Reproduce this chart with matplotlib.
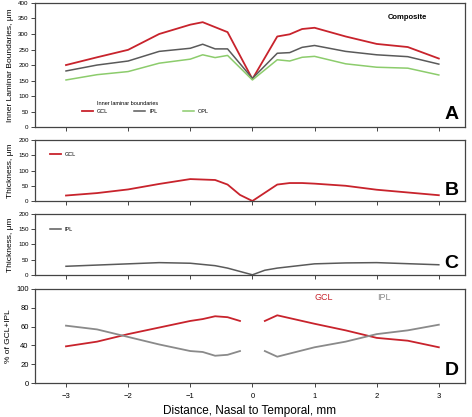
import matplotlib
matplotlib.use("Agg")
import matplotlib.pyplot as plt
import numpy as np

plt.rcParams["font.family"] = ["Liberation Sans", "DejaVu Sans"]

# Panel A: inner laminar boundaries (um)
dist_a = [-3, -2.5, -2, -1.5, -1, -0.8, -0.6, -0.4, 0, 0.4, 0.6, 0.8, 1, 1.5, 2, 2.5, 3]
gcl_a = [200, 225, 249, 300, 330, 338, 322, 306, 155, 292, 299, 316, 320, 292, 268, 258, 221]
ipl_a = [181, 200, 213, 244, 254, 267, 252, 252, 157, 238, 240, 257, 263, 244, 233, 227, 203]
opl_a = [152, 169, 179, 206, 219, 233, 224, 231, 152, 217, 213, 225, 228, 204, 193, 190, 168]

# Panel B: GCL thickness
dist_b = [-3, -2.5, -2, -1.5, -1, -0.6, -0.4, -0.2, 0, 0.4, 0.6, 0.8, 1, 1.5, 2, 2.5, 3]
gcl_b = [18, 26, 38, 56, 72, 69, 54, 20, 0, 54, 59, 59, 57, 50, 37, 28, 19]

# Panel C: IPL thickness
dist_c = [-3, -2, -1.5, -1, -0.6, -0.4, 0, 0.2, 0.4, 1, 1.5, 2, 3]
ipl_c = [28, 36, 40, 38, 30, 22, 0, 15, 22, 36, 39, 40, 33]

# Panel D: % of GCL+IPL (gap at the fovea)
dist_d = [-3, -2.5, -2, -1.5, -1, -0.8, -0.6, -0.4, -0.2, 0, 0.2, 0.4, 1, 1.5, 2, 2.5, 3]
gcl_d = [39, 44, 52, 59, 66, 68, 71, 70, 66, np.nan, 66, 72, 63, 56, 48, 45, 38]
ipl_d = [61, 57, 49, 41, 34, 33, 29, 30, 34, np.nan, 34, 28, 38, 44, 52, 56, 62]

xticks = [-3, -2, -1, 0, 1, 2, 3]

red = "#c8232c"
gray = "#5a5a5a"
green = "#8ccc6c"
lgray = "#8a8a8a"
frame = "#444444"

fig = plt.figure(figsize=(4.72, 4.17), dpi=100)
left, width = 0.074, 0.911
ax_a = fig.add_axes([left, 0.695, width, 0.298])
ax_b = fig.add_axes([left, 0.518, width, 0.146])
ax_c = fig.add_axes([left, 0.341, width, 0.146])
ax_d = fig.add_axes([left, 0.0815, width, 0.2255])


def style(ax, ymax, ystep, lab_size):
    ax.set_xlim(-3.5, 3.42)
    ax.set_ylim(0, ymax)
    ax.set_yticks(np.arange(0, ymax + 1, ystep))
    ax.set_xticks(xticks)
    for s in ax.spines.values():
        s.set_color(frame)
        s.set_linewidth(0.9)
    ax.tick_params(direction="out", length=3, width=0.7, color=frame,
                   labelsize=lab_size, pad=1.5)


# A
ax_a.plot(dist_a, gcl_a, color=red, lw=1.3, label="GCL")
ax_a.plot(dist_a, ipl_a, color=gray, lw=1.1, label="IPL")
ax_a.plot(dist_a, opl_a, color=green, lw=1.1, label="OPL")
style(ax_a, 400, 50, 4.5)
ax_a.set_xticklabels([])
ax_a.set_ylabel("Inner Laminar Boundaries, \u03bcm", fontsize=6, labelpad=3)
ax_a.text(0.867, 0.88, "Composite", transform=ax_a.transAxes, fontsize=5.5,
          fontweight="bold", ha="center", va="center")
ax_a.text(0.985, 0.03, "A", transform=ax_a.transAxes, fontsize=14,
          fontweight="bold", ha="right", va="bottom")
ax_a.text(0.144, 0.194, "Inner laminar boundaries", transform=ax_a.transAxes,
          fontsize=4, va="center")
ax_a.legend(ncol=3, loc="center left", bbox_to_anchor=(0.11, 0.129),
            frameon=False, fontsize=4, handlelength=2.0, columnspacing=4.6,
            handletextpad=0.7, borderpad=0, borderaxespad=0)

# B
ax_b.plot(dist_b, gcl_b, color=red, lw=1.3, label="GCL")
style(ax_b, 200, 50, 4.5)
ax_b.set_xticklabels([])
ax_b.set_ylabel("Thickness, \u03bcm", fontsize=6, labelpad=3)
ax_b.legend(loc="center left", bbox_to_anchor=(0.035, 0.77), frameon=False,
            fontsize=4, handlelength=2.0, handletextpad=0.7, borderpad=0,
            borderaxespad=0)
ax_b.text(0.985, 0.04, "B", transform=ax_b.transAxes, fontsize=14,
          fontweight="bold", ha="right", va="bottom")

# C
ax_c.plot(dist_c, ipl_c, color=gray, lw=1.1, label="IPL")
style(ax_c, 200, 50, 4.5)
ax_c.set_xticklabels([])
ax_c.set_ylabel("Thickness, \u03bcm", fontsize=6, labelpad=3)
ax_c.legend(loc="center left", bbox_to_anchor=(0.035, 0.75), frameon=False,
            fontsize=4, handlelength=2.0, handletextpad=0.7, borderpad=0,
            borderaxespad=0)
ax_c.text(0.985, 0.04, "C", transform=ax_c.transAxes, fontsize=14,
          fontweight="bold", ha="right", va="bottom")

# D
ax_d.plot(dist_d, gcl_d, color=red, lw=1.3)
ax_d.plot(dist_d, ipl_d, color=lgray, lw=1.3)
style(ax_d, 100, 20, 5.5)
ax_d.tick_params(axis="x", pad=4.5)
ax_d.set_ylabel("% of GCL+IPL", fontsize=6, labelpad=3)
ax_d.set_xlabel("Distance, Nasal to Temporal, mm", fontsize=8.5, labelpad=3)
ax_d.text(0.651, 0.91, "GCL", transform=ax_d.transAxes, color=red,
          fontsize=6.5, va="center")
ax_d.text(0.795, 0.91, "IPL", transform=ax_d.transAxes, color=lgray,
          fontsize=6.5, va="center")
ax_d.text(0.985, 0.04, "D", transform=ax_d.transAxes, fontsize=14,
          fontweight="bold", ha="right", va="bottom")

fig.savefig("out.png", dpi=100)
